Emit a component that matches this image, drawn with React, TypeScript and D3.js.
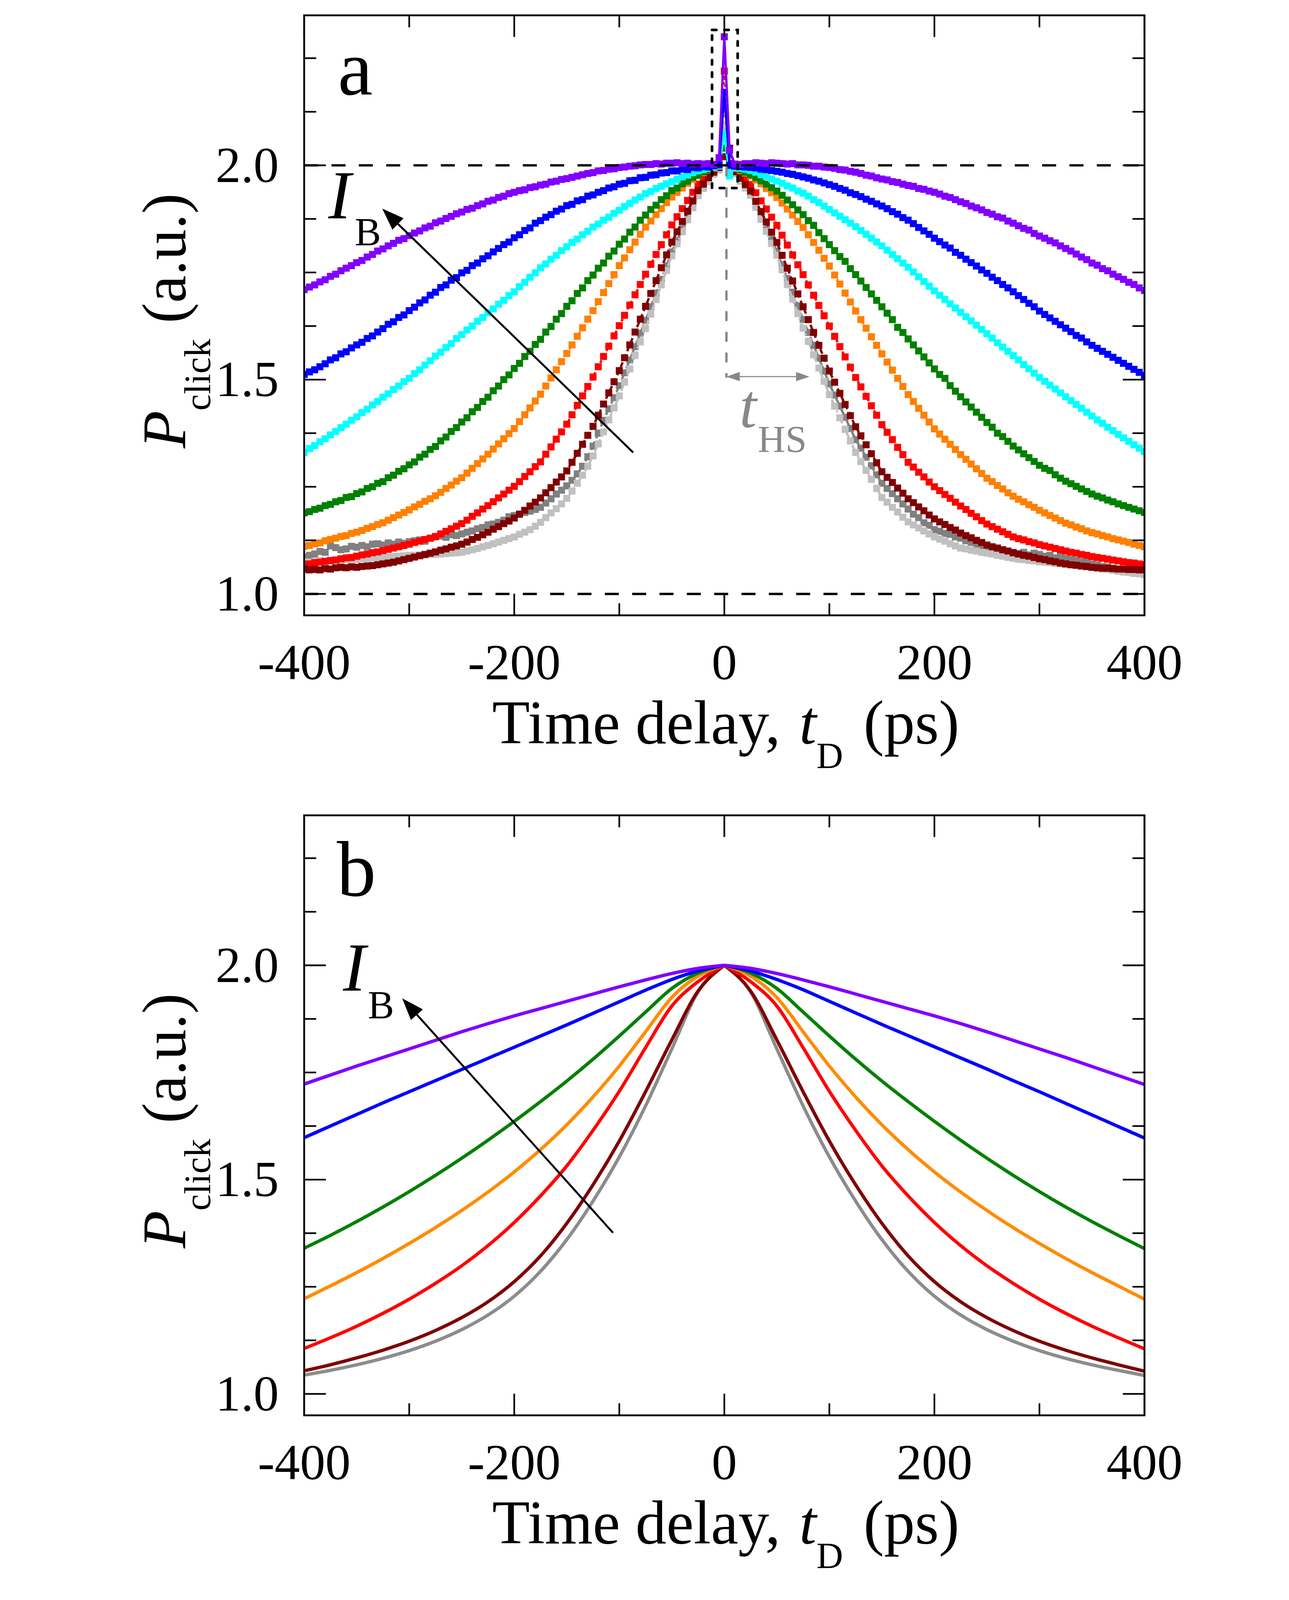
import React from "react";
import * as d3 from "d3";

const FONT = '"Liberation Serif", "Times New Roman", Times, serif';

// sampling grids (ps)
const tA = d3.range(-400, 405, 5);
const tB = d3.range(-400, 425, 25);

const xTicksMajor = [-400, -200, 0, 200, 400];
const xTicksMinor = [-300, -100, 100, 300];
const yTicksMajor = [1.0, 1.5, 2.0];
const yTicksMinor = [1.125, 1.25, 1.375, 1.625, 1.75, 1.875, 2.125, 2.25];

// ---- panel a : measured points, left half (-400..-5), peak (0), right half (5..400)
const purpleALeft = [
  1.710, 1.716, 1.721, 1.728, 1.733, 1.741, 1.746, 1.754, 1.760, 1.766,
  1.773, 1.778, 1.786, 1.792, 1.800, 1.805, 1.812, 1.818, 1.825, 1.829,
  1.836, 1.842, 1.847, 1.854, 1.858, 1.866, 1.870, 1.876, 1.881, 1.887,
  1.891, 1.897, 1.900, 1.906, 1.910, 1.916, 1.919, 1.925, 1.928, 1.934,
  1.937, 1.941, 1.943, 1.948, 1.950, 1.954, 1.956, 1.961, 1.963, 1.967,
  1.969, 1.972, 1.975, 1.978, 1.981, 1.983, 1.987, 1.988, 1.991, 1.992,
  1.995, 1.996, 1.998, 1.999, 2.001, 2.002, 2.002, 2.004, 2.003, 2.005,
  2.005, 2.006, 2.004, 2.005, 2.003, 2.004, 2.003, 2.004, 2.002, 2.018,
];
const purpleARight = [
  2.035, 2.003, 2.002, 2.004, 2.004, 2.006, 2.005, 2.004, 2.006, 2.005,
  2.004, 2.003, 2.004, 2.001, 2.001, 2.000, 1.998, 1.998, 1.996, 1.995,
  1.993, 1.990, 1.989, 1.986, 1.984, 1.981, 1.977, 1.975, 1.971, 1.968,
  1.966, 1.962, 1.960, 1.956, 1.953, 1.951, 1.946, 1.944, 1.940, 1.937,
  1.933, 1.928, 1.925, 1.920, 1.915, 1.911, 1.905, 1.901, 1.896, 1.890,
  1.886, 1.880, 1.877, 1.870, 1.865, 1.859, 1.853, 1.849, 1.841, 1.835,
  1.830, 1.824, 1.819, 1.812, 1.806, 1.800, 1.793, 1.786, 1.780, 1.772,
  1.767, 1.759, 1.754, 1.746, 1.740, 1.734, 1.727, 1.722, 1.714, 1.708,
];
const blueALeft = [
  1.512, 1.518, 1.523, 1.530, 1.537, 1.546, 1.551, 1.560, 1.565, 1.574,
  1.581, 1.587, 1.596, 1.602, 1.611, 1.619, 1.629, 1.635, 1.645, 1.651,
  1.661, 1.669, 1.679, 1.686, 1.697, 1.704, 1.715, 1.721, 1.732, 1.738,
  1.749, 1.755, 1.766, 1.772, 1.782, 1.789, 1.798, 1.806, 1.815, 1.821,
  1.831, 1.838, 1.848, 1.854, 1.865, 1.871, 1.879, 1.885, 1.893, 1.898,
  1.906, 1.909, 1.917, 1.920, 1.928, 1.931, 1.937, 1.941, 1.947, 1.950,
  1.956, 1.958, 1.964, 1.965, 1.971, 1.972, 1.977, 1.978, 1.982, 1.983,
  1.987, 1.987, 1.991, 1.990, 1.995, 1.994, 1.997, 1.996, 1.999, 2.001,
];
const blueARight = [
  2.000, 1.998, 1.997, 1.996, 1.995, 1.994, 1.991, 1.990, 1.988, 1.986,
  1.984, 1.981, 1.979, 1.976, 1.973, 1.970, 1.966, 1.963, 1.959, 1.955,
  1.951, 1.946, 1.942, 1.936, 1.932, 1.927, 1.921, 1.916, 1.910, 1.905,
  1.899, 1.892, 1.886, 1.878, 1.872, 1.864, 1.855, 1.847, 1.839, 1.830,
  1.822, 1.814, 1.807, 1.797, 1.790, 1.781, 1.773, 1.765, 1.756, 1.748,
  1.739, 1.731, 1.722, 1.714, 1.705, 1.696, 1.687, 1.678, 1.670, 1.660,
  1.652, 1.644, 1.636, 1.628, 1.620, 1.612, 1.603, 1.597, 1.588, 1.580,
  1.573, 1.566, 1.559, 1.552, 1.545, 1.538, 1.531, 1.524, 1.517, 1.510,
];
const cyanALeft = [
  1.330, 1.339, 1.346, 1.355, 1.362, 1.371, 1.379, 1.388, 1.396, 1.405,
  1.413, 1.423, 1.431, 1.441, 1.449, 1.459, 1.467, 1.477, 1.485, 1.495,
  1.503, 1.514, 1.523, 1.534, 1.544, 1.555, 1.564, 1.575, 1.584, 1.596,
  1.605, 1.616, 1.625, 1.636, 1.645, 1.656, 1.665, 1.676, 1.685, 1.696,
  1.705, 1.717, 1.727, 1.739, 1.749, 1.761, 1.770, 1.781, 1.790, 1.801,
  1.810, 1.820, 1.828, 1.838, 1.846, 1.856, 1.863, 1.872, 1.879, 1.888,
  1.895, 1.904, 1.911, 1.919, 1.926, 1.934, 1.939, 1.946, 1.951, 1.957,
  1.962, 1.967, 1.973, 1.977, 1.983, 1.987, 1.990, 1.993, 1.995, 1.999,
];
const cyanARight = [
  1.975, 1.995, 1.993, 1.991, 1.988, 1.984, 1.978, 1.974, 1.968, 1.963,
  1.958, 1.952, 1.947, 1.940, 1.935, 1.928, 1.920, 1.913, 1.905, 1.897,
  1.889, 1.881, 1.873, 1.865, 1.857, 1.848, 1.839, 1.830, 1.821, 1.812,
  1.802, 1.792, 1.782, 1.772, 1.762, 1.751, 1.740, 1.729, 1.718, 1.707,
  1.697, 1.687, 1.677, 1.667, 1.657, 1.647, 1.637, 1.627, 1.617, 1.607,
  1.597, 1.586, 1.576, 1.566, 1.556, 1.546, 1.535, 1.525, 1.515, 1.505,
  1.496, 1.487, 1.478, 1.469, 1.460, 1.451, 1.442, 1.433, 1.424, 1.415,
  1.406, 1.398, 1.389, 1.381, 1.372, 1.364, 1.356, 1.348, 1.340, 1.332,
];
const greenALeft = [
  1.189, 1.192, 1.197, 1.200, 1.206, 1.209, 1.215, 1.218, 1.225, 1.227,
  1.234, 1.238, 1.246, 1.250, 1.258, 1.262, 1.271, 1.277, 1.286, 1.292,
  1.301, 1.308, 1.319, 1.326, 1.337, 1.344, 1.357, 1.366, 1.379, 1.388,
  1.401, 1.411, 1.425, 1.435, 1.449, 1.459, 1.474, 1.485, 1.500, 1.511,
  1.526, 1.538, 1.554, 1.566, 1.582, 1.594, 1.611, 1.624, 1.641, 1.654,
  1.671, 1.684, 1.701, 1.714, 1.731, 1.744, 1.760, 1.772, 1.788, 1.800,
  1.816, 1.828, 1.844, 1.856, 1.872, 1.884, 1.897, 1.907, 1.920, 1.929,
  1.941, 1.947, 1.957, 1.963, 1.972, 1.977, 1.985, 1.989, 1.996, 1.999,
];
const greenARight = [
  2.000, 1.995, 1.990, 1.984, 1.978, 1.971, 1.964, 1.956, 1.948, 1.940,
  1.930, 1.919, 1.908, 1.896, 1.885, 1.871, 1.860, 1.843, 1.829, 1.815,
  1.801, 1.787, 1.776, 1.759, 1.745, 1.730, 1.715, 1.700, 1.685, 1.670,
  1.655, 1.640, 1.622, 1.610, 1.595, 1.581, 1.567, 1.553, 1.539, 1.525,
  1.512, 1.503, 1.486, 1.473, 1.460, 1.448, 1.436, 1.424, 1.412, 1.400,
  1.389, 1.375, 1.367, 1.356, 1.345, 1.336, 1.327, 1.318, 1.309, 1.300,
  1.293, 1.288, 1.278, 1.270, 1.263, 1.257, 1.251, 1.245, 1.239, 1.233,
  1.228, 1.224, 1.219, 1.215, 1.210, 1.206, 1.202, 1.198, 1.194, 1.190,
];
const orangeALeft = [
  1.111, 1.113, 1.117, 1.119, 1.124, 1.127, 1.130, 1.134, 1.136, 1.141,
  1.144, 1.148, 1.153, 1.157, 1.162, 1.166, 1.172, 1.178, 1.184, 1.190,
  1.196, 1.203, 1.209, 1.216, 1.222, 1.229, 1.237, 1.246, 1.254, 1.263,
  1.271, 1.282, 1.293, 1.304, 1.315, 1.326, 1.338, 1.350, 1.362, 1.374,
  1.386, 1.402, 1.418, 1.434, 1.450, 1.466, 1.485, 1.504, 1.523, 1.542,
  1.561, 1.581, 1.601, 1.621, 1.641, 1.661, 1.682, 1.703, 1.724, 1.745,
  1.766, 1.784, 1.803, 1.821, 1.839, 1.856, 1.870, 1.885, 1.899, 1.913,
  1.926, 1.937, 1.947, 1.958, 1.967, 1.976, 1.983, 1.989, 1.994, 1.998,
];
const orangeARight = [
  2.000, 1.993, 1.988, 1.982, 1.975, 1.966, 1.957, 1.946, 1.936, 1.925,
  1.912, 1.898, 1.884, 1.869, 1.855, 1.838, 1.820, 1.802, 1.783, 1.765,
  1.744, 1.723, 1.702, 1.681, 1.660, 1.640, 1.620, 1.600, 1.580, 1.560,
  1.541, 1.522, 1.503, 1.484, 1.465, 1.449, 1.433, 1.417, 1.401, 1.385,
  1.373, 1.361, 1.349, 1.337, 1.325, 1.314, 1.303, 1.292, 1.281, 1.270,
  1.262, 1.253, 1.245, 1.236, 1.228, 1.221, 1.215, 1.208, 1.202, 1.195,
  1.189, 1.183, 1.177, 1.171, 1.165, 1.161, 1.156, 1.152, 1.147, 1.143,
  1.140, 1.136, 1.133, 1.129, 1.126, 1.123, 1.120, 1.116, 1.113, 1.110,
];
const redALeft = [
  1.069, 1.070, 1.073, 1.074, 1.076, 1.078, 1.079, 1.082, 1.084, 1.085,
  1.088, 1.091, 1.093, 1.096, 1.098, 1.101, 1.104, 1.107, 1.110, 1.113,
  1.116, 1.120, 1.123, 1.127, 1.130, 1.134, 1.140, 1.146, 1.152, 1.158,
  1.164, 1.172, 1.181, 1.189, 1.198, 1.206, 1.215, 1.224, 1.233, 1.242,
  1.251, 1.262, 1.274, 1.285, 1.297, 1.308, 1.326, 1.343, 1.361, 1.378,
  1.396, 1.418, 1.440, 1.462, 1.484, 1.506, 1.530, 1.554, 1.578, 1.602,
  1.626, 1.650, 1.674, 1.698, 1.722, 1.746, 1.769, 1.792, 1.815, 1.838,
  1.861, 1.880, 1.899, 1.918, 1.937, 1.956, 1.968, 1.980, 1.991, 1.998,
];
const redARight = [
  2.005, 1.990, 1.979, 1.967, 1.955, 1.936, 1.917, 1.898, 1.879, 1.860,
  1.837, 1.814, 1.791, 1.768, 1.745, 1.721, 1.697, 1.673, 1.649, 1.625,
  1.601, 1.577, 1.553, 1.529, 1.505, 1.483, 1.461, 1.439, 1.417, 1.395,
  1.377, 1.360, 1.342, 1.325, 1.307, 1.296, 1.284, 1.273, 1.261, 1.250,
  1.241, 1.232, 1.223, 1.214, 1.205, 1.197, 1.188, 1.180, 1.171, 1.163,
  1.157, 1.151, 1.145, 1.139, 1.133, 1.129, 1.126, 1.122, 1.119, 1.115,
  1.112, 1.109, 1.106, 1.103, 1.100, 1.097, 1.095, 1.092, 1.090, 1.087,
  1.085, 1.083, 1.081, 1.079, 1.077, 1.075, 1.073, 1.072, 1.070, 1.068,
];
const darkRedALeft = [
  1.058, 1.056, 1.057, 1.056, 1.059, 1.058, 1.061, 1.062, 1.061, 1.063,
  1.062, 1.064, 1.065, 1.066, 1.068, 1.070, 1.072, 1.074, 1.077, 1.080,
  1.083, 1.086, 1.089, 1.092, 1.095, 1.098, 1.102, 1.105, 1.109, 1.112,
  1.116, 1.121, 1.127, 1.132, 1.138, 1.144, 1.151, 1.157, 1.164, 1.170,
  1.177, 1.186, 1.195, 1.205, 1.214, 1.224, 1.236, 1.248, 1.261, 1.273,
  1.287, 1.307, 1.328, 1.349, 1.370, 1.391, 1.417, 1.443, 1.469, 1.495,
  1.521, 1.551, 1.581, 1.611, 1.641, 1.671, 1.701, 1.731, 1.761, 1.791,
  1.821, 1.845, 1.869, 1.893, 1.917, 1.941, 1.956, 1.971, 1.984, 1.995,
];
const darkRedARight = [
  2.040, 1.985, 1.970, 1.955, 1.940, 1.916, 1.892, 1.868, 1.844, 1.820,
  1.790, 1.760, 1.730, 1.700, 1.670, 1.640, 1.610, 1.580, 1.550, 1.520,
  1.494, 1.468, 1.442, 1.416, 1.390, 1.369, 1.348, 1.327, 1.306, 1.285,
  1.272, 1.260, 1.247, 1.235, 1.222, 1.213, 1.203, 1.194, 1.184, 1.175,
  1.168, 1.162, 1.155, 1.149, 1.142, 1.136, 1.131, 1.125, 1.120, 1.114,
  1.110, 1.107, 1.103, 1.100, 1.096, 1.093, 1.090, 1.088, 1.085, 1.082,
  1.080, 1.077, 1.075, 1.072, 1.070, 1.068, 1.067, 1.065, 1.064, 1.062,
  1.061, 1.060, 1.060, 1.059, 1.058, 1.058, 1.057, 1.057, 1.056, 1.056,
];
const grayALeft = [
  1.086, 1.090, 1.093, 1.099, 1.097, 1.112, 1.108, 1.103, 1.105, 1.111,
  1.109, 1.113, 1.110, 1.116, 1.117, 1.114, 1.119, 1.116, 1.121, 1.118,
  1.122, 1.124, 1.126, 1.123, 1.130, 1.133, 1.135, 1.132, 1.138, 1.136,
  1.140, 1.144, 1.147, 1.152, 1.155, 1.161, 1.163, 1.167, 1.172, 1.180,
  1.183, 1.186, 1.190, 1.193, 1.197, 1.202, 1.212, 1.222, 1.233, 1.242,
  1.252, 1.265, 1.280, 1.298, 1.320, 1.345, 1.375, 1.405, 1.432, 1.458,
  1.486, 1.516, 1.546, 1.577, 1.608, 1.638, 1.670, 1.702, 1.734, 1.766,
  1.798, 1.825, 1.852, 1.879, 1.906, 1.933, 1.950, 1.967, 1.983, 1.994,
];
const grayARight = [
  1.995, 1.985, 1.968, 1.952, 1.935, 1.908, 1.881, 1.854, 1.827, 1.800,
  1.768, 1.736, 1.704, 1.672, 1.640, 1.610, 1.580, 1.550, 1.520, 1.490,
  1.464, 1.438, 1.412, 1.386, 1.360, 1.340, 1.319, 1.299, 1.278, 1.258,
  1.246, 1.234, 1.222, 1.210, 1.198, 1.186, 1.178, 1.166, 1.160, 1.150,
  1.146, 1.141, 1.139, 1.133, 1.130, 1.124, 1.120, 1.113, 1.111, 1.105,
  1.104, 1.100, 1.103, 1.098, 1.097, 1.094, 1.097, 1.091, 1.095, 1.092,
  1.088, 1.090, 1.084, 1.087, 1.083, 1.080, 1.078, 1.075, 1.074, 1.070,
  1.068, 1.064, 1.063, 1.060, 1.058, 1.055, 1.053, 1.050, 1.048, 1.045,
];
const lightGrayALeft = [
  1.075, 1.073, 1.076, 1.078, 1.076, 1.077, 1.079, 1.078, 1.080, 1.079,
  1.080, 1.082, 1.081, 1.084, 1.083, 1.085, 1.086, 1.087, 1.088, 1.089,
  1.090, 1.090, 1.091, 1.091, 1.092, 1.092, 1.093, 1.094, 1.095, 1.096,
  1.097, 1.100, 1.103, 1.106, 1.110, 1.113, 1.117, 1.121, 1.125, 1.129,
  1.133, 1.139, 1.144, 1.150, 1.158, 1.167, 1.178, 1.189, 1.199, 1.210,
  1.223, 1.240, 1.258, 1.277, 1.298, 1.322, 1.350, 1.378, 1.406, 1.434,
  1.462, 1.494, 1.525, 1.556, 1.588, 1.619, 1.653, 1.687, 1.721, 1.755,
  1.789, 1.817, 1.845, 1.873, 1.901, 1.929, 1.946, 1.962, 1.979, 1.989,
];
const lightGrayARight = [
  1.990, 1.980, 1.963, 1.947, 1.930, 1.902, 1.874, 1.846, 1.818, 1.790,
  1.756, 1.722, 1.688, 1.654, 1.620, 1.589, 1.558, 1.527, 1.496, 1.465,
  1.438, 1.411, 1.384, 1.357, 1.330, 1.309, 1.288, 1.267, 1.246, 1.225,
  1.214, 1.202, 1.191, 1.179, 1.168, 1.161, 1.154, 1.147, 1.140, 1.133,
  1.128, 1.123, 1.117, 1.112, 1.107, 1.105, 1.102, 1.100, 1.097, 1.095,
  1.093, 1.090, 1.088, 1.085, 1.083, 1.081, 1.080, 1.078, 1.077, 1.075,
  1.074, 1.073, 1.071, 1.070, 1.069, 1.068, 1.066, 1.065, 1.063, 1.062,
  1.060, 1.058, 1.057, 1.055, 1.053, 1.051, 1.050, 1.048, 1.047, 1.045,
];

// ---- panel b : fitted curves on 25 ps grid (-400..400)
const purpleB = [1.723, 1.744, 1.765, 1.785, 1.805, 1.825, 1.845, 1.864, 1.882, 1.899, 1.916, 1.933, 1.950, 1.966, 1.981, 1.993, 2.000,
  1.993, 1.981, 1.966, 1.950, 1.933, 1.916, 1.899, 1.882, 1.864, 1.845, 1.825, 1.805, 1.785, 1.764, 1.743, 1.722];
const blueB = [1.598, 1.625, 1.652, 1.679, 1.705, 1.731, 1.757, 1.783, 1.809, 1.835, 1.861, 1.888, 1.915, 1.942, 1.967, 1.987, 2.000,
  1.987, 1.967, 1.943, 1.916, 1.889, 1.862, 1.836, 1.810, 1.784, 1.758, 1.731, 1.705, 1.678, 1.651, 1.624, 1.597];
const greenB = [1.340, 1.370, 1.402, 1.436, 1.472, 1.510, 1.550, 1.592, 1.636, 1.682, 1.730, 1.781, 1.835, 1.891, 1.946, 1.982, 2.000,
  1.982, 1.946, 1.891, 1.835, 1.781, 1.730, 1.682, 1.636, 1.592, 1.550, 1.510, 1.472, 1.436, 1.402, 1.370, 1.339];
const orangeB = [1.222, 1.252, 1.283, 1.316, 1.351, 1.388, 1.428, 1.471, 1.518, 1.570, 1.628, 1.693, 1.765, 1.845, 1.925, 1.975, 2.000,
  1.975, 1.925, 1.845, 1.765, 1.693, 1.628, 1.570, 1.518, 1.471, 1.428, 1.388, 1.351, 1.316, 1.283, 1.252, 1.221];
const redB = [1.106, 1.131, 1.158, 1.188, 1.221, 1.258, 1.299, 1.346, 1.400, 1.462, 1.532, 1.615, 1.706, 1.808, 1.905, 1.962, 2.000,
  1.962, 1.905, 1.808, 1.706, 1.615, 1.532, 1.462, 1.400, 1.346, 1.299, 1.258, 1.221, 1.188, 1.158, 1.131, 1.105];
const darkRedB = [1.054, 1.068, 1.084, 1.102, 1.123, 1.148, 1.178, 1.215, 1.262, 1.322, 1.398, 1.488, 1.590, 1.705, 1.826, 1.940, 2.000,
  1.940, 1.826, 1.705, 1.590, 1.488, 1.398, 1.322, 1.262, 1.215, 1.178, 1.148, 1.123, 1.102, 1.084, 1.068, 1.053];
const grayB = [1.044, 1.055, 1.068, 1.083, 1.101, 1.123, 1.150, 1.184, 1.228, 1.286, 1.360, 1.450, 1.553, 1.672, 1.805, 1.938, 2.000,
  1.938, 1.805, 1.672, 1.553, 1.450, 1.360, 1.286, 1.228, 1.184, 1.150, 1.123, 1.101, 1.083, 1.068, 1.055, 1.043];

const seriesA = [
  { key: "gray", color: "#808080", dash: "28 10", v: [...grayALeft, 2.09, ...grayARight] },
  { key: "lgray", color: "#c0c0c0", dash: "28 8 6 8", v: [...lightGrayALeft, 2.09, ...lightGrayARight] },
  { key: "red", color: "#ff0000", dash: "8 12", v: [...redALeft, 2.22, ...redARight] },
  { key: "dred", color: "#800000", dash: "16 10", v: [...darkRedALeft, 2.02, ...darkRedARight] },
  { key: "orange", color: "#ff8000", dash: "5 14", v: [...orangeALeft, 2.13, ...orangeARight] },
  { key: "green", color: "#008000", dash: "5 14", v: [...greenALeft, 2.04, ...greenARight] },
  { key: "cyan", color: "#00ffff", dash: null, v: [...cyanALeft, 2.075, ...cyanARight] },
  { key: "blue", color: "#0000ff", dash: null, v: [...blueALeft, 2.17, ...blueARight] },
  { key: "purple", color: "#8000ff", dash: null, v: [...purpleALeft, 2.3, ...purpleARight] },
];

const seriesB = [
  { key: "gray", color: "#8c8c8c", v: grayB },
  { key: "dred", color: "#800000", v: darkRedB },
  { key: "red", color: "#ff0000", v: redB },
  { key: "orange", color: "#ff8c00", v: orangeB },
  { key: "green", color: "#008000", v: greenB },
  { key: "blue", color: "#0000ff", v: blueB },
  { key: "purple", color: "#8000ff", v: purpleB },
];

// annotations (data coordinates)
const arrowA = { from: [-86.8, 1.33], to: [-325.7, 1.899] };
const arrowB = { from: [-106, 1.376], to: [-306.7, 1.923] };
const labelIA = [-377, 1.876];
const labelIB = [-363, 1.941];
const spikeBox = [-11.7, 12.7, 1.947, 2.316];
const hsArrow = [2, 81, 1.507];
const hsLabel = [14.5, 1.39];

const W = 3300;
const H = 4800;
const LEFT = 629;
const RIGHT = 3150;
const PH = 1800;
const TOPS = [46, 2446];

const x = d3.scaleLinear().domain([-400, 400]).range([LEFT, RIGHT]);
const yFor = (top: number) => d3.scaleLinear().domain([0.95, 2.35]).range([top + PH, top]);

function head(tx: number, ty: number, fx: number, fy: number, len: number, half: number) {
  const dx = tx - fx;
  const dy = ty - fy;
  const d = Math.hypot(dx, dy);
  const ux = dx / d;
  const uy = dy / d;
  const bx = tx - ux * len;
  const by = ty - uy * len;
  const pts = [
    [tx, ty],
    [bx - uy * half, by + ux * half],
    [bx + uy * half, by - ux * half],
  ];
  return { pts: pts.map((p) => p.join(",")).join(" "), bx, by };
}

function Axes({ top, y }: { top: number; y: d3.ScaleLinear<number, number> }) {
  const bottom = top + PH;
  const tk = { stroke: "#000", strokeWidth: 5 };
  return (
    <g>
      {xTicksMajor.concat(xTicksMinor).map((v) => {
        const len = xTicksMajor.includes(v) ? 65 : 36;
        return (
          <g key={"x" + v}>
            <line x1={x(v)} x2={x(v)} y1={bottom} y2={bottom - len} {...tk} />
            <line x1={x(v)} x2={x(v)} y1={top} y2={top + len} {...tk} />
          </g>
        );
      })}
      {yTicksMajor.concat(yTicksMinor).map((v) => {
        const len = yTicksMajor.includes(v) ? 65 : 36;
        return (
          <g key={"y" + v}>
            <line x1={LEFT} x2={LEFT + len} y1={y(v)} y2={y(v)} {...tk} />
            <line x1={RIGHT} x2={RIGHT - len} y1={y(v)} y2={y(v)} {...tk} />
          </g>
        );
      })}
      <rect x={LEFT} y={top} width={RIGHT - LEFT} height={PH} fill="none" stroke="#000" strokeWidth={5.5} />
      {xTicksMajor.map((v) => (
        <text key={"xl" + v} x={x(v)} y={bottom + 192} fontSize={152} textAnchor="middle">
          {String(v)}
        </text>
      ))}
      {yTicksMajor.map((v) => (
        <text key={"yl" + v} x={LEFT - 76} y={y(v) + 50} fontSize={152} textAnchor="end">
          {v.toFixed(1)}
        </text>
      ))}
      <text x={1193} y={bottom + 384} fontSize={185} style={{ whiteSpace: "pre" }}>
        <tspan>{"Time delay, "}</tspan>
        <tspan fontStyle="italic" dx={10}>t</tspan>
        <tspan fontSize={111} dy={75}>D</tspan>
        <tspan dy={-75} dx={15}>{" (ps)"}</tspan>
      </text>
      <text transform={`translate(272, ${top + 1299}) rotate(-90)`} fontSize={185} style={{ whiteSpace: "pre" }}>
        <tspan fontStyle="italic">P</tspan>
        <tspan fontSize={111} dy={75}>click</tspan>
        <tspan dy={-75}>{" (a.u.)"}</tspan>
      </text>
    </g>
  );
}

function Arrow({ y, a }: { y: d3.ScaleLinear<number, number>; a: { from: number[]; to: number[] } }) {
  const fx = x(a.from[0]);
  const fy = y(a.from[1]);
  const tx = x(a.to[0]);
  const ty = y(a.to[1]);
  const h = head(tx, ty, fx, fy, 66, 24);
  return (
    <g>
      <line x1={fx} y1={fy} x2={h.bx} y2={h.by} stroke="#000" strokeWidth={6} />
      <polygon points={h.pts} fill="#000" />
    </g>
  );
}

function PanelA() {
  const top = TOPS[0];
  const y = yFor(top);
  const line = d3
    .line<number>()
    .x((_, i) => x(tA[i]))
    .y((v) => y(v));
  const hsY = y(hsArrow[2]);
  const hx1 = x(hsArrow[0]);
  const hx2 = x(hsArrow[1]);
  const hL = head(hx1, hsY, hx2, hsY, 40, 14);
  const hR = head(hx2, hsY, hx1, hsY, 40, 14);
  return (
    <g>
      <defs>
        <clipPath id="clipA">
          <rect x={LEFT} y={top} width={RIGHT - LEFT} height={PH} />
        </clipPath>
      </defs>
      <g clipPath="url(#clipA)">
        {seriesA.map((s) => (
          <g key={s.key}>
            <path d={line(s.v) || ""} fill="none" stroke={s.color} strokeWidth={7} strokeDasharray={s.dash || undefined} />
            {s.v.map((v, i) => (
              <rect key={i} x={x(tA[i]) - 10.5} y={y(v) - 10.5} width={21} height={21} fill={s.color} />
            ))}
          </g>
        ))}
        {[2.0, 1.0].map((v) => (
          <line key={v} x1={LEFT} x2={RIGHT} y1={y(v)} y2={y(v)} stroke="#000" strokeWidth={7} strokeDasharray="42 40" />
        ))}
      </g>
      <rect
        x={x(spikeBox[0])}
        y={y(spikeBox[3])}
        width={x(spikeBox[1]) - x(spikeBox[0])}
        height={y(spikeBox[2]) - y(spikeBox[3])}
        fill="none"
        stroke="#000"
        strokeWidth={8}
        strokeDasharray="13 24"
        strokeLinecap="round"
      />
      <line x1={hx1} x2={hx1} y1={y(1.995)} y2={hsY} stroke="#888" strokeWidth={7} strokeDasharray="24 38" strokeLinecap="round" />
      <line x1={hL.bx} x2={hR.bx} y1={hsY} y2={hsY} stroke="#888" strokeWidth={3} />
      <polygon points={hL.pts} fill="#888" />
      <polygon points={hR.pts} fill="#888" />
      <text x={x(hsLabel[0])} y={y(hsLabel[1])} fontSize={185} fill="#888">
        <tspan fontStyle="italic">t</tspan>
        <tspan fontSize={115} dy={76} dx={3}>HS</tspan>
      </text>
      <Arrow y={y} a={arrowA} />
      <text x={x(labelIA[0])} y={y(labelIA[1])} fontSize={205}>
        <tspan fontStyle="italic">I</tspan>
        <tspan fontSize={118} dy={81} dx={11}>B</tspan>
      </text>
      <text x={730} y={top + 238} fontSize={235}>a</text>
      <Axes top={top} y={y} />
    </g>
  );
}

function PanelB() {
  const top = TOPS[1];
  const y = yFor(top);
  const line = d3
    .line<[number, number]>()
    .x((d) => x(d[0]))
    .y((d) => y(d[1]))
    .curve(d3.curveMonotoneX);
  const mid = tB.indexOf(0);
  return (
    <g>
      {seriesB.map((s) => {
        const pts = s.v.map((v, i) => [tB[i], v] as [number, number]);
        return (
          <g key={s.key} fill="none" stroke={s.color} strokeWidth={10}>
            <path d={line(pts.slice(0, mid + 1)) || ""} />
            <path d={line(pts.slice(mid)) || ""} />
          </g>
        );
      })}
      <Arrow y={y} a={arrowB} />
      <text x={x(labelIB[0])} y={y(labelIB[1])} fontSize={205}>
        <tspan fontStyle="italic">I</tspan>
        <tspan fontSize={118} dy={83} dx={6}>B</tspan>
      </text>
      <text x={727} y={top + 241} fontSize={235}>b</text>
      <Axes top={top} y={y} />
    </g>
  );
}

export default function App() {
  // fill the visible window, keeping the figure's own proportions
  return (
    <svg
      viewBox={`0 0 ${W} ${H}`}
      preserveAspectRatio="xMidYMin meet"
      style={{ position: "fixed", left: 0, top: 0, width: "100vw", height: "100vh", display: "block", background: "#fff" }}
      fontFamily={FONT}
    >
      <rect width={W} height={H} fill="#fff" />
      <PanelA />
      <PanelB />
    </svg>
  );
}
